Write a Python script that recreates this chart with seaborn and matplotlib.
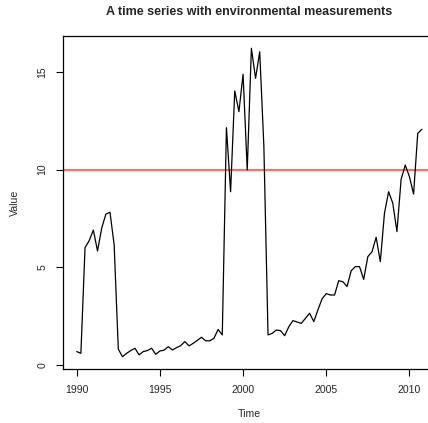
import numpy as np
import pandas as pd
import matplotlib
matplotlib.use("Agg")
import matplotlib.pyplot as plt
import seaborn as sns

# quarterly series, 1990 Q1 .. 2010 Q4
start_year = 1990
freq = 4
values = [
    0.70, 0.61, 6.01, 6.37, 6.91, 5.84, 7.00, 7.72, 7.82, 6.15,
    0.82, 0.44, 0.61, 0.75, 0.87, 0.53, 0.70, 0.75, 0.87, 0.56,
    0.73, 0.77, 0.95, 0.78, 0.90, 1.00, 1.21, 0.99, 1.12, 1.27,
    1.43, 1.25, 1.25, 1.38, 1.83, 1.55, 12.14, 8.87, 14.02, 12.96,
    14.87, 9.98, 16.20, 14.66, 16.02, 11.20, 1.55, 1.63, 1.80, 1.77,
    1.51, 1.97, 2.28, 2.21, 2.14, 2.40, 2.66, 2.23, 2.83, 3.40,
    3.66, 3.59, 3.59, 4.32, 4.27, 4.02, 4.83, 5.04, 5.04, 4.39,
    5.55, 5.80, 6.54, 5.29, 7.77, 8.87, 8.28, 6.83, 9.50, 10.23,
    9.64, 8.75, 11.85, 12.06,
]
threshold = 10
x_ticks = [1990, 1995, 2000, 2005, 2010]
y_ticks = [0, 5, 10, 15]

time = start_year + np.arange(len(values)) / freq
df = pd.DataFrame({"Time": time, "Value": values})

sns.set_theme(style="ticks")
plt.rcParams["font.family"] = ["Liberation Sans", "DejaVu Sans"]

fig = plt.figure(figsize=(4.28, 4.23), dpi=100)
ax_box = [0.147, 0.1277, 0.871, 0.7874]
ax = fig.add_axes(ax_box)

sns.lineplot(data=df, x="Time", y="Value", color="black", linewidth=0.9,
             estimator=None, ax=ax)
ax.axhline(threshold, color="#ff6e6e", linewidth=1.6, zorder=1)

# R style 4% padding around the data
xr = time.max() - time.min()
ax.set_xlim(time.min() - 0.04 * xr, time.max() + 0.04 * xr)
yr = max(values) - min(values)
ax.set_ylim(min(values) - 0.04 * yr, max(values) + 0.04 * yr)

ax.set_xticks(x_ticks)
ax.set_yticks(y_ticks)
ax.set_xticklabels([str(t) for t in x_ticks], fontsize=7.6)
ax.set_yticklabels([str(t) for t in y_ticks], fontsize=7.6, rotation=90, va="center")
ax.tick_params(axis="both", length=5, width=0.8, color="black")
ax.tick_params(axis="x", pad=6.5)
ax.tick_params(axis="y", pad=6)

for s in ax.spines.values():
    s.set_color("black")
    s.set_linewidth(0.9)

ax.set_xlabel("Time", fontsize=7.6, labelpad=10)
ax.set_ylabel("Value", fontsize=7.6, labelpad=12.5)

# title centred over the plot region, like R's main
fig.text(ax_box[0] + ax_box[2] / 2, 0.971,
         "A time series with environmental measurements",
         fontsize=9, fontweight="bold", ha="center", va="center")

fig.savefig("out.png", dpi=100)
